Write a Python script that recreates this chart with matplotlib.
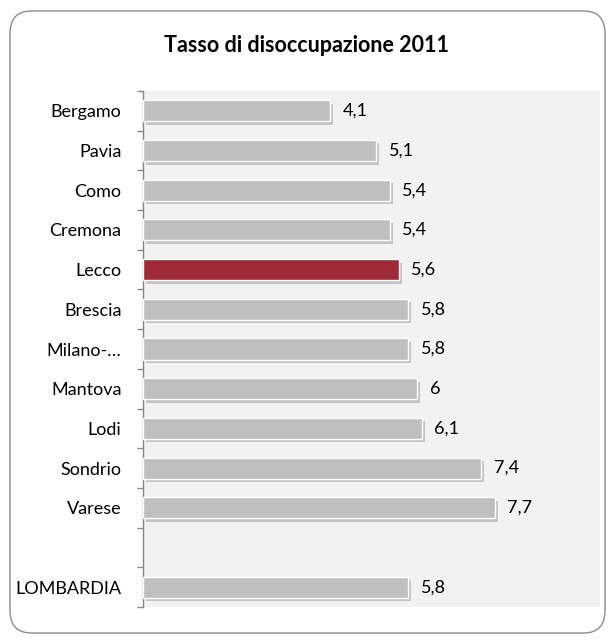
import matplotlib
matplotlib.use("Agg")
import matplotlib.pyplot as plt
import matplotlib.patheffects as pe
from matplotlib.patches import FancyBboxPatch
import numpy as np

plt.rcParams['font.family'] = ['Lato', 'DejaVu Sans']

title = "Tasso di disoccupazione 2011"
provinces = ["Bergamo", "Pavia", "Como", "Cremona", "Lecco", "Brescia",
             "Milano-…", "Mantova", "Lodi", "Sondrio", "Varese"]
province_values = [4.1, 5.1, 5.4, 5.4, 5.6, 5.8, 5.8, 6.0, 6.1, 7.4, 7.7]
region_label = "LOMBARDIA"
region_value = 5.8
highlight = "Lecco"

gray_bar = "#bfbfbf"
red_bar = "#9e2a37"

labels = provinces + ["", region_label]
values = province_values + [None, region_value]

fig = plt.figure(figsize=(6.13, 6.41), dpi=100)
fig.patch.set_facecolor("white")

# rounded outer border
border = FancyBboxPatch((10 / 613, 8 / 641), 595 / 613, 622 / 641,
                        boxstyle="round,pad=0,rounding_size=0.035",
                        transform=fig.transFigure, facecolor="white",
                        edgecolor="#8c8c8c", linewidth=1.0, zorder=-5)
fig.patches.append(border)

ax = fig.add_axes([143 / 613, 1 - 607 / 641, 457 / 613, 516 / 641])
ax.set_zorder(1)
ax.set_facecolor("#f2f2f2")

n = len(labels)
ypos = np.arange(n)
for y, lab, v in zip(ypos, labels, values):
    if v is None:
        continue
    color = red_bar if lab == highlight else gray_bar
    bar = ax.barh(y, v, height=0.53, color=color, edgecolor="white",
                  linewidth=1.0, zorder=3)
    for p in bar.patches:
        p.set_path_effects([pe.SimplePatchShadow(offset=(2, -2.5),
                                                 shadow_rgbFace="#6f6f6f",
                                                 alpha=0.35),
                            pe.Normal()])
    txt = f"{v:g}".replace(".", ",")
    ax.annotate(txt, (v, y), xytext=(9, 0), textcoords="offset points",
                va="center", ha="left", fontsize=13, color="black", zorder=4)

ax.set_xlim(0, 10)
ax.set_ylim(n - 0.5, -0.5)
ax.set_yticks(ypos)
ax.set_yticklabels(labels, fontsize=13)
ax.set_yticks(np.arange(-0.5, n, 1.0), minor=True)
ax.tick_params(axis="y", which="major", length=0, pad=15.5)
ax.tick_params(axis="y", which="minor", length=4.5, color="#868686", width=1)
ax.set_xticks([])
for s in ["top", "right", "bottom"]:
    ax.spines[s].set_visible(False)
ax.spines["left"].set_color("#868686")
ax.spines["left"].set_linewidth(1.0)

fig.text(306 / 613, 1 - 46 / 641, title, ha="center", va="center",
         fontsize=15.5, fontweight="bold")

fig.savefig("out.png", dpi=100)
